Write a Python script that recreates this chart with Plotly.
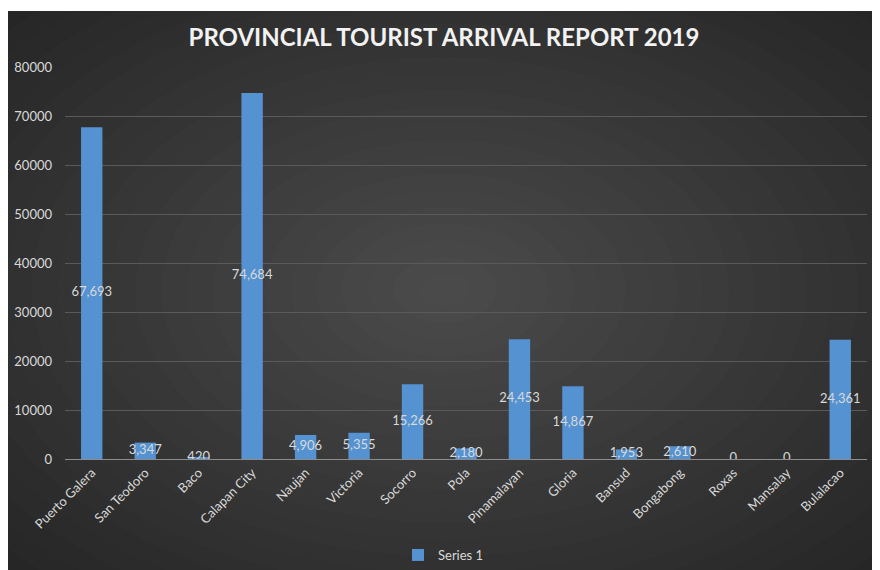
import plotly.graph_objects as go

categories = ["Puerto Galera", "San Teodoro", "Baco", "Calapan City", "Naujan", "Victoria",
              "Socorro", "Pola", "Pinamalayan", "Gloria", "Bansud", "Bongabong", "Roxas",
              "Mansalay", "Bulalacao"]
values = [67693, 3347, 420, 74684, 4906, 5355, 15266, 2180, 24453, 14867, 1953, 2610, 0, 0, 24361]
y_ticks = [0, 10000, 20000, 30000, 40000, 50000, 60000, 70000, 80000]
title_text = "PROVINCIAL TOURIST ARRIVAL REPORT 2019"
series_name = "Series 1"

FONT = "Lato"
LBL = "#d9d9d9"

# page body margin offsets the figure by 8px; geometry below is in figure pixels
OFF = 8
W, H = 880, 570
L, R, T, B = 65 - OFF, 21, 67 - OFF, H - (459 - OFF)
PW, PH = W - L - R, H - T - B


def px(x):  # screenshot x -> paper
    return (x - OFF - L) / PW


def py(y):  # screenshot y -> paper
    return (H - B - (y - OFF)) / PH


fig = go.Figure()
fig.add_trace(go.Bar(
    x=categories, y=values, name=series_name,
    marker=dict(color="#5592d2", line=dict(width=0)),
    showlegend=True,
))
fig.add_trace(go.Scatter(
    x=categories, y=[v / 2 for v in values],
    mode="text", text=[f"{v:,}" for v in values],
    textfont=dict(family=FONT, size=13, color=LBL),
    showlegend=False, hoverinfo="skip",
))

# background: radial-ish gradient built from nested ellipses
shapes = [dict(type="rect", xref="paper", yref="paper", layer="below",
               x0=px(0), x1=px(W + OFF), y0=py(H + OFF), y1=py(0),
               fillcolor="#262626", line=dict(width=0))]
cx, cy = 445, 290
N = 24
for k in range(N):
    s = 1 - k / N
    rx, ry = 620 * s, 400 * s
    c = int(round(38 + (76 - 38) * (k / N)))
    shapes.append(dict(type="circle", xref="paper", yref="paper", layer="below",
                       x0=px(cx - rx), x1=px(cx + rx), y0=py(cy + ry), y1=py(cy - ry),
                       fillcolor=f"rgb({c},{c},{c})", line=dict(width=0)))
# white top strip
shapes.append(dict(type="rect", xref="paper", yref="paper", layer="below",
                   x0=px(0), x1=px(W + OFF), y0=py(11), y1=py(0),
                   fillcolor="white", line=dict(width=0)))

fig.update_layout(
    width=W, height=H,
    margin=dict(l=L, r=R, t=T, b=B, autoexpand=False),
    paper_bgcolor="white",
    plot_bgcolor="rgba(0,0,0,0)",
    bargap=0.6,
    title=dict(text=title_text, x=(444 - OFF) / W, xref="container", xanchor="center",
               y=1 - (38 - OFF) / H, yref="container", yanchor="middle",
               font=dict(family=FONT, size=24, color="#f2f2f2", weight="bold")),
    legend=dict(orientation="h", x=px(398), xanchor="left", y=py(555), yanchor="middle",
                font=dict(family=FONT, size=13, color=LBL), bgcolor="rgba(0,0,0,0)"),
    shapes=shapes,
)

fig.update_xaxes(tickangle=-45, tickfont=dict(family=FONT, size=13, color=LBL),
                 showgrid=False, showline=True, linecolor="#8c8c8c", linewidth=1,
                 ticks="", range=[-0.5, 14.5], automargin=False)
fig.update_yaxes(range=[0, 80000], tickvals=y_ticks, ticktext=[str(t) for t in y_ticks],
                 tickfont=dict(family=FONT, size=13, color=LBL),
                 showgrid=True, gridcolor="#5a5a5a", gridwidth=1,
                 zeroline=True, zerolinecolor="#8c8c8c", zerolinewidth=1,
                 ticks="", ticklabelstandoff=12, automargin=False)

fig.write_html("out.html")
